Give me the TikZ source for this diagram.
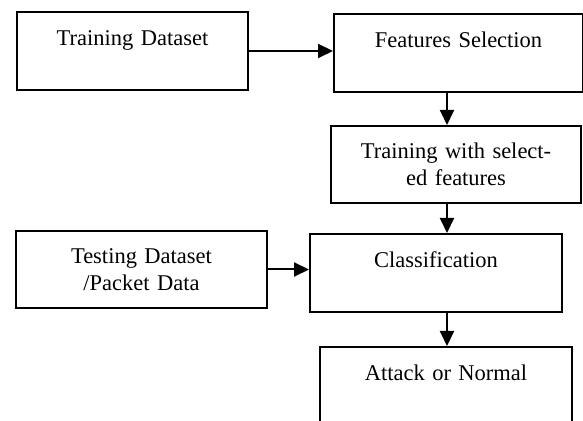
\documentclass[tikz,border=0pt]{standalone}
\usepackage{fontspec}
\setmainfont{Liberation Serif}
\usetikzlibrary{arrows.meta}
\tikzset{
    boxnode/.style = {rectangle, draw=black, line width=1pt, align=center, inner xsep=0pt, inner ysep=0pt, anchor=north west, text height=17pt, text depth=22pt, font=\fontsize{11.25}{13.5}\selectfont},
    flow/.style = {->, line width=1pt}
}

\begin{document}
\begin{tikzpicture}
            [x=0.5pt, y=-0.5pt,
            >={Triangle[length=7.5pt, width=7pt]}]

            \useasboundingbox (0,0) rectangle (583,421);

            \node (train) [boxnode, text width=115.5pt] at (16,11) {Training Dataset};
            \node (feat) [boxnode, text width=124.5pt] at (333,13) {Features Selection};
            \node (trsel) [boxnode, text width=125pt, text height=16.5pt] at (330,125) {Training with select-\\ed features};
            \node (classif) [boxnode, text width=126pt] at (309,233) {Classification};
            \node (test) [boxnode, text width=125.5pt, text height=16.5pt] at (15,230) {Testing Dataset\\/Packet Data};
            \node (result) [boxnode, text width=126pt, text depth=26pt] at (319,346) {Attack or Normal};

            \coordinate (spine) at (447,0);

            \draw [flow] (train.east) -- (train.east -| feat.west);
            \draw [flow] (feat.south -| spine) -- (trsel.north -| spine);
            \draw [flow] (trsel.south -| spine) -- (classif.north -| spine);
            \draw [flow] (test.east) -- (test.east -| classif.west);
            \draw [flow] (classif.south -| spine) -- (result.north -| spine);
\end{tikzpicture}
\end{document}
